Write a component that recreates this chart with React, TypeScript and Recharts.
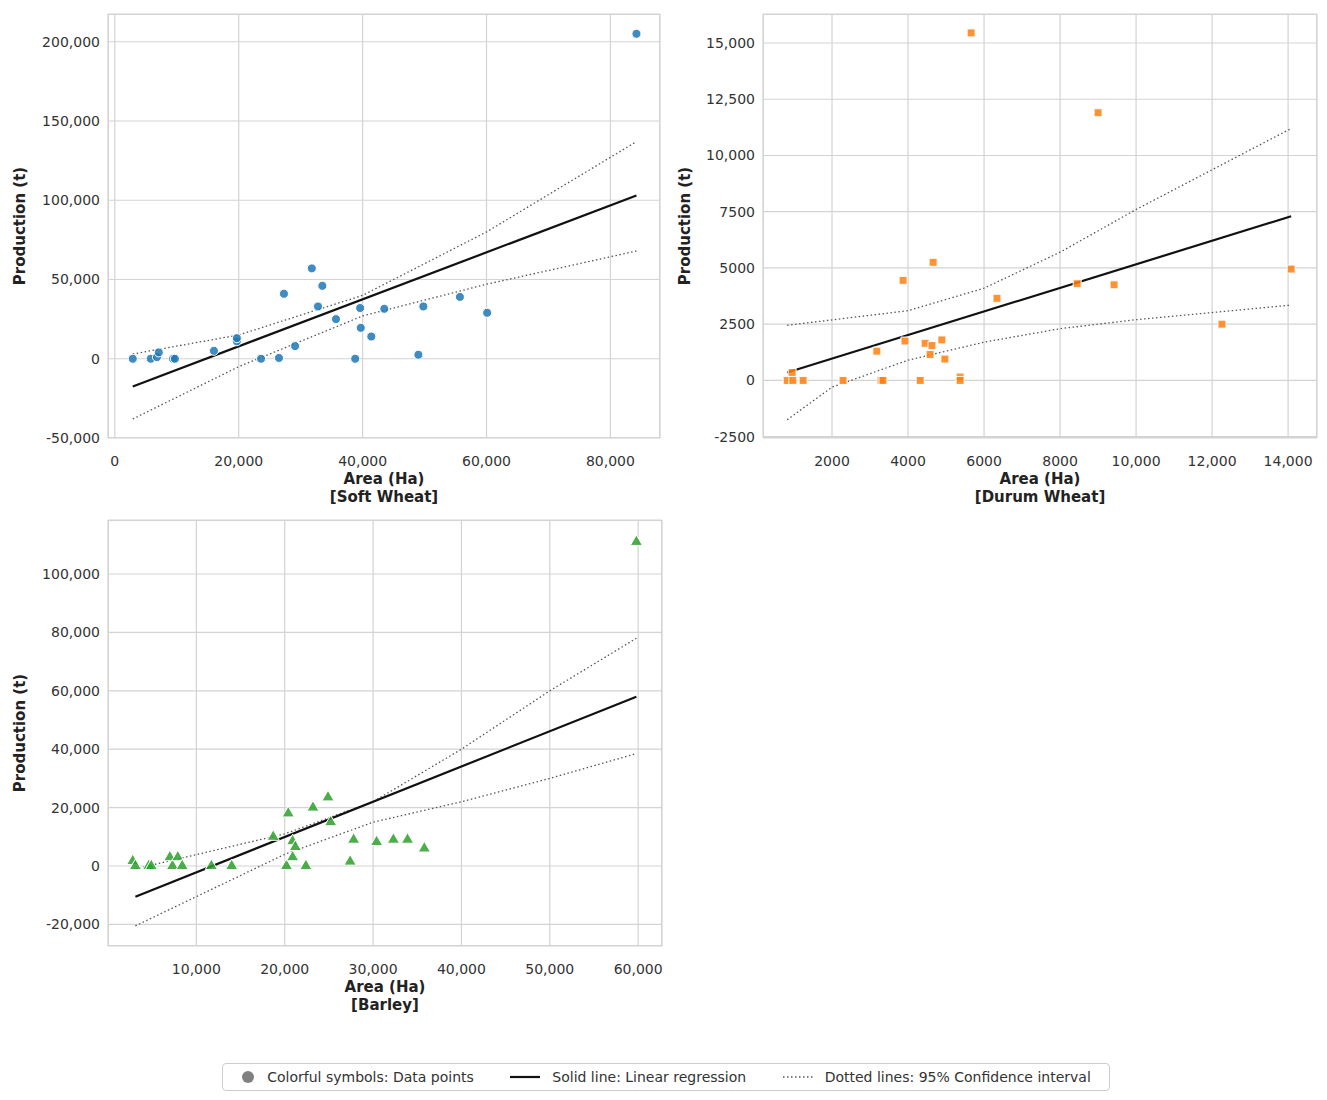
import React from 'react';
import {
  ScatterChart,
  Scatter,
  XAxis,
  YAxis,
  ZAxis,
  CartesianGrid,
} from 'recharts';

// Soft wheat
const softPoints = [
  [2900, 0], [5800, 0], [6800, 1000], [7100, 4000], [9400, 0], [9700, 0],
  [16000, 5000], [19700, 11000], [19700, 13000], [23600, 0], [26500, 500],
  [27300, 41000], [29100, 8000], [31800, 57000], [32800, 33000], [33500, 46000],
  [35700, 25000], [38800, 0], [39600, 32000], [39700, 19500], [41400, 14000],
  [43500, 31500], [49000, 2500], [49800, 33000], [55700, 39000], [60100, 29000],
  [84200, 205000],
];
const softFit = [[2900, -17500], [84200, 103000]];
const softUpper = [[2900, 3000], [20000, 15000], [40000, 40000], [60000, 80000], [84200, 137000]];
const softLower = [[2900, -38000], [20000, -5000], [40000, 27000], [60000, 47000], [84200, 68000]];
const softXTicks = [0, 20000, 40000, 60000, 80000];
const softYTicks = [-50000, 0, 50000, 100000, 150000, 200000];

// Durum wheat
const durumPoints = [
  [820, 0], [950, 350], [970, 0], [1240, 0], [2290, 0], [3180, 1300], [3290, 0],
  [3340, 0], [3870, 4450], [3920, 1750], [4320, 0], [4450, 1650], [4580, 1150],
  [4630, 1550], [4660, 5250], [4890, 1800], [4970, 950], [5370, 150], [5370, 0],
  [5660, 15450], [6340, 3650], [8450, 4300], [9000, 11900], [9420, 4250],
  [12260, 2500], [14080, 4950],
];
const durumFit = [[820, 350], [14080, 7300]];
const durumUpper = [[820, 2450], [4000, 3100], [6000, 4100], [8000, 5700], [10000, 7600], [14080, 11200]];
const durumLower = [[820, -1750], [2000, -300], [4000, 900], [6000, 1700], [8000, 2300], [10000, 2700], [14080, 3350]];
const durumXTicks = [2000, 4000, 6000, 8000, 10000, 12000, 14000];
const durumYTicks = [-2500, 0, 2500, 5000, 7500, 10000, 12500, 15000];

// Barley
const barleyPoints = [
  [2800, 1700], [3100, 0], [4600, 0], [4900, 0], [7000, 3000], [7300, 0],
  [7900, 3000], [8400, 0], [11700, 0], [14000, 0], [18700, 10000], [20200, 0],
  [20400, 18000], [20900, 8500], [20900, 3000], [21200, 6500], [22400, 0],
  [23200, 20000], [24900, 23500], [25200, 15000], [27400, 1500], [27800, 9000],
  [30400, 8200], [32300, 9000], [33900, 9000], [35800, 6000], [59800, 111000],
];
const barleyFit = [[3100, -10500], [59800, 58000]];
const barleyUpper = [[3100, -1000], [20000, 11000], [30000, 22000], [40000, 40000], [50000, 60000], [59800, 78000]];
const barleyLower = [[3100, -20500], [20000, 4000], [30000, 15000], [40000, 22000], [50000, 30000], [59800, 38500]];
const barleyXTicks = [10000, 20000, 30000, 40000, 50000, 60000];
const barleyYTicks = [-20000, 0, 20000, 40000, 60000, 80000, 100000];

const toXY = (arr: number[][]) => arr.map(([x, y]) => ({ x, y }));
const font = 'DejaVu Sans, sans-serif';
const gridColor = '#d3d3d3';

const fmtComma = (v: number) => v.toLocaleString('en-US');
const fmtDurum = (v: number) => (Math.abs(v) >= 10000 ? v.toLocaleString('en-US') : String(v));

interface PanelProps {
  left: number;
  top: number;
  width: number;
  height: number;
  points: number[][];
  fit: number[][];
  upper: number[][];
  lower: number[][];
  xDomain: [number, number];
  yDomain: [number, number];
  xTicks: number[];
  yTicks: number[];
  xFmt: (v: number) => string;
  yFmt: (v: number) => string;
  name: string;
  color: string;
  shape: 'circle' | 'square' | 'triangle';
  markerSize: number;
  labelX: number;
}

function Panel(p: PanelProps) {
  const yAxisW = 108;
  const xAxisH = 72;
  const plotW = p.width - yAxisW - 10;
  const plotH = p.height - xAxisH - 14;
  const xLabel = (props: any) => {
    const vb = props.viewBox;
    const cx = vb.x + vb.width / 2;
    return (
      <text x={cx} y={vb.y + 46} textAnchor="middle" fontFamily={font} fontSize={15} fontWeight="bold" fill="#222">
        <tspan x={cx}>Area (Ha)</tspan>
        <tspan x={cx} dy={18}>[{p.name}]</tspan>
      </text>
    );
  };
  const yLabel = (props: any) => {
    const vb = props.viewBox;
    const cy = vb.y + vb.height / 2;
    return (
      <text x={p.labelX} y={cy} transform={`rotate(-90 ${p.labelX} ${cy})`} textAnchor="middle" dominantBaseline="central"
        fontFamily={font} fontSize={15} fontWeight="bold" fill="#222">Production (t)</text>
    );
  };
  return (
    <div style={{ position: 'absolute', left: p.left, top: p.top }}>
      <ScatterChart width={p.width} height={p.height} margin={{ top: 14, right: 10, left: 0, bottom: 0 }}>
        <CartesianGrid stroke={gridColor} strokeWidth={1.2} />
        <XAxis
          type="number"
          dataKey="x"
          domain={p.xDomain}
          ticks={p.xTicks}
          tickFormatter={p.xFmt}
          height={xAxisH}
          axisLine={false}
          tickLine={false}
          allowDataOverflow
          tickMargin={12}
          tick={{ fontFamily: font, fontSize: 14, fill: '#333' }}
          label={xLabel}
        />
        <YAxis
          type="number"
          dataKey="y"
          domain={p.yDomain}
          ticks={p.yTicks}
          tickFormatter={p.yFmt}
          width={yAxisW}
          axisLine={false}
          tickLine={false}
          allowDataOverflow
          tick={{ fontFamily: font, fontSize: 14, fill: '#333' }}
          label={yLabel}
        />
        <ZAxis range={[p.markerSize, p.markerSize]} />
        <Scatter data={toXY(p.upper)} line={{ stroke: '#555', strokeWidth: 1.3, strokeDasharray: '1.5 2.5' }} shape={() => null} isAnimationActive={false} />
        <Scatter data={toXY(p.lower)} line={{ stroke: '#555', strokeWidth: 1.3, strokeDasharray: '1.5 2.5' }} shape={() => null} isAnimationActive={false} />
        <Scatter data={toXY(p.fit)} line={{ stroke: '#111', strokeWidth: 2.2 }} shape={() => null} isAnimationActive={false} />
        <Scatter data={toXY(p.points)} shape={p.shape} fill={p.color} fillOpacity={0.85} stroke="#fff" strokeWidth={1} isAnimationActive={false} />
      </ScatterChart>
      <div style={{ position: 'absolute', left: yAxisW, top: 14, width: plotW, height: plotH, border: `1.5px solid ${gridColor}`, boxSizing: 'border-box', pointerEvents: 'none' }} />
    </div>
  );
}

export default function App() {
  const legendItem: React.CSSProperties = { display: 'flex', alignItems: 'center', gap: 12 };
  return (
    <div style={{ position: 'absolute', left: 0, top: 0, width: 1327, height: 1100, background: '#fff', fontFamily: font }}>
      <Panel left={0} top={0} width={670} height={510} points={softPoints} fit={softFit} upper={softUpper} lower={softLower}
        xDomain={[-1100, 88000]} yDomain={[-50000, 217500]} xTicks={softXTicks} yTicks={softYTicks}
        xFmt={fmtComma} yFmt={fmtComma} name="Soft Wheat" color="#1f77b4" shape="circle" markerSize={120} labelX={20} />
      <Panel left={655} top={0} width={672} height={510} points={durumPoints} fit={durumFit} upper={durumUpper} lower={durumLower}
        xDomain={[184, 14760]} yDomain={[-2560, 16290]} xTicks={durumXTicks} yTicks={durumYTicks}
        xFmt={fmtDurum} yFmt={fmtDurum} name="Durum Wheat" color="#ff7f0e" shape="square" markerSize={110} labelX={30} />
      <Panel left={0} top={506} width={672} height={512} points={barleyPoints} fit={barleyFit} upper={barleyUpper} lower={barleyLower}
        xDomain={[0, 62700]} yDomain={[-27400, 118500]} xTicks={barleyXTicks} yTicks={barleyYTicks}
        xFmt={fmtComma} yFmt={fmtComma} name="Barley" color="#2ca02c" shape="triangle" markerSize={110} labelX={20} />
      <div style={{ position: 'absolute', left: 222, top: 1063, width: 888, height: 28, border: '1px solid #ccc', borderRadius: 4, boxSizing: 'border-box', display: 'flex', alignItems: 'center', justifyContent: 'space-around', fontSize: 14, color: '#333' }}>
        <div style={legendItem}>
          <svg width={14} height={14}><circle cx={7} cy={7} r={6} fill="#808080" /></svg>
          <span>Colorful symbols: Data points</span>
        </div>
        <div style={legendItem}>
          <svg width={30} height={6}><line x1={0} y1={3} x2={30} y2={3} stroke="#111" strokeWidth={2.2} /></svg>
          <span>Solid line: Linear regression</span>
        </div>
        <div style={legendItem}>
          <svg width={30} height={6}><line x1={0} y1={3} x2={30} y2={3} stroke="#555" strokeWidth={1.5} strokeDasharray="1.5 2.5" /></svg>
          <span>Dotted lines: 95% Confidence interval</span>
        </div>
      </div>
    </div>
  );
}
